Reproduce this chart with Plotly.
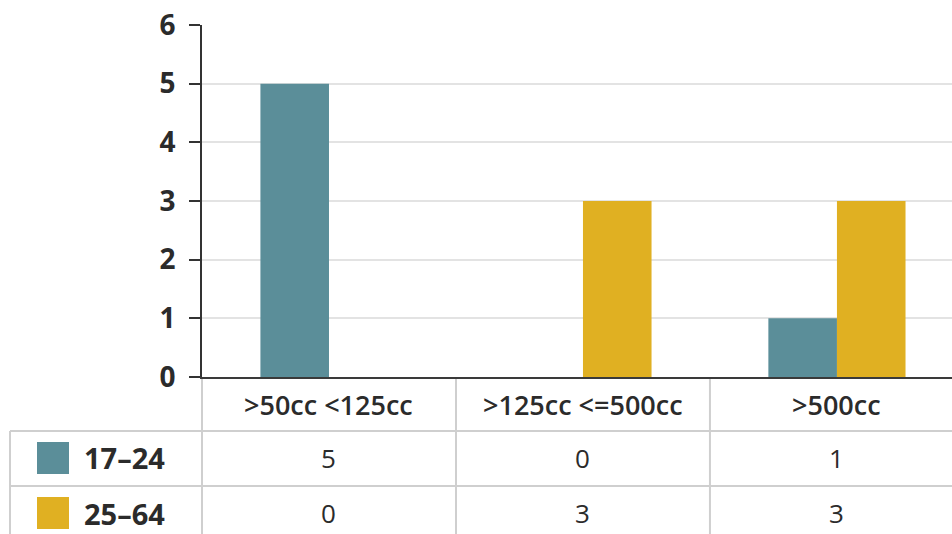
import plotly.graph_objects as go

# Engine size bands and age groups
categories = [">50cc <125cc", ">125cc <=500cc", ">500cc"]
groups = ["17–24", "25–64"]
values_17_24 = [5, 0, 1]
values_25_64 = [0, 3, 3]
y_ticks = [0, 1, 2, 3, 4, 5, 6]

series = [values_17_24, values_25_64]
colors = ["#5B8E99", "#E0B022"]

W, H = 952, 534
L, T, B = 202, 25, 157
plot_h = H - T - B
plot_w = W - L

def py(pix):
    """Pixel row -> paper y."""
    return (H - B - pix) / plot_h

def px(pix):
    """Pixel column -> paper x."""
    return (pix - L) / plot_w

FONT = "Open Sans"
TXT = "#2b2b2b"
GRID = "#cfcfcf"

fig = go.Figure()
for name, vals, col in zip(groups, series, colors):
    fig.add_trace(go.Bar(x=categories, y=vals, name=name, marker_color=col,
                         marker_line_width=0, showlegend=False))

fig.update_layout(
    width=W, height=H,
    margin=dict(l=L, r=0, t=T, b=B),
    paper_bgcolor="white", plot_bgcolor="white",
    barmode="group", bargap=0.46, bargroupgap=0,
    font=dict(family=FONT, color=TXT),
)
fig.update_xaxes(range=[-0.5, 2.453], showticklabels=False, showgrid=False,
                 showline=True, linecolor="#3a3a3a", linewidth=2, ticks="",
                 zeroline=False)
fig.update_yaxes(range=[0, 6], tickvals=y_ticks, showgrid=True,
                 gridcolor="#e3e3e3", gridwidth=2, zeroline=False,
                 showline=True, linecolor="#333333", linewidth=2,
                 ticks="outside", ticklen=11, tickwidth=2, tickcolor="#333333",
                 ticklabelstandoff=8,
                 tickfont=dict(size=28, weight="bold", color=TXT, family=FONT))

shapes = []
def line(x0, y0, x1, y1, xref="paper"):
    shapes.append(dict(type="line", xref=xref, yref="paper", x0=x0, x1=x1,
                       y0=y0, y1=y1, line=dict(color=GRID, width=2),
                       layer="below"))

# Table grid below the plot
line(px(10), py(431), 1, py(431))
line(px(10), py(486), 1, py(486))
line(px(10), py(431), px(10), py(H + 5))
line(0, py(379), 0, py(H + 5))
for b in [0.5, 1.5]:
    line(b, py(378), b, py(H + 5), xref="x")

annotations = []
# Column headers
for cat in categories:
    annotations.append(dict(x=cat, xref="x", y=py(404), yref="paper",
                            xanchor="center", yanchor="middle",
                            text=cat, showarrow=False,
                            font=dict(size=27, weight=600, color=TXT)))
# Row labels with colour keys and values
row_centres = [458, 513]
for name, vals, col, yc in zip(groups, series, colors, row_centres):
    shapes.append(dict(type="rect", xref="paper", yref="paper",
                       x0=px(37), x1=px(69), y0=py(yc - 16), y1=py(yc + 16),
                       fillcolor=col, line=dict(width=0)))
    annotations.append(dict(x=px(82), xref="paper", y=py(yc), yref="paper",
                            xanchor="left", yanchor="middle",
                            text=name, showarrow=False,
                            font=dict(size=29, weight="bold", color=TXT)))
    for cat, v in zip(categories, vals):
        annotations.append(dict(x=cat, xref="x", y=py(yc), yref="paper",
                                xanchor="center", yanchor="middle",
                                text=str(v), showarrow=False,
                                font=dict(size=26, color=TXT)))
fig.update_layout(shapes=shapes, annotations=annotations)

fig.write_html("out.html")
